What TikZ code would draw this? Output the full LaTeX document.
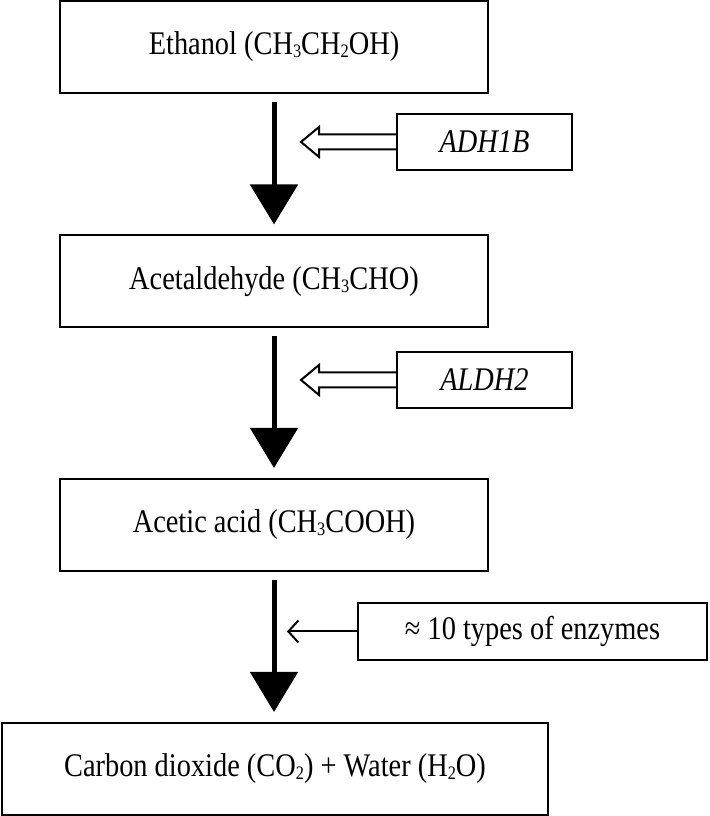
\documentclass[tikz,border=0pt]{standalone}
\usepackage{fontspec}
\setmainfont{Liberation Serif}[FakeStretch=0.86]
\usetikzlibrary{arrows.meta}
\newcommand\chemsub[1]{\raisebox{-0.08em}{\fontsize{19}{19}\selectfont#1}}

\begin{document}
\begin{tikzpicture}[x=1pt,y=1pt,
  stage/.style={draw,line width=2pt,minimum height=92pt,inner sep=0pt,font=\fontsize{33}{38}\selectfont},
  enzyme/.style={draw,line width=2pt,minimum width=175pt,minimum height=56pt,inner sep=0pt,font=\fontsize{33}{38}\selectfont\itshape},
  flow/.style={line width=5pt,-{Triangle[length=40pt,width=47pt]},shorten <=8pt,shorten >=10pt},
  hollow/.style={line width=2pt,line join=miter},
  thinarrow/.style={line width=2pt,-{Straight Barb[length=10pt,width=22pt]}}]
  \useasboundingbox (0,0) rectangle (709,816);

  % metabolites
  \node[stage,minimum width=428pt] (eth) at (274,769) {Ethanol (CH\chemsub{3}CH\chemsub{2}OH)};
  \node[stage,minimum width=428pt] (ald) at (274,534.5) {Acetaldehyde (CH\chemsub{3}CHO)};
  \node[stage,minimum width=428pt] (acid) at (274,291) {Acetic acid (CH\chemsub{3}COOH)};
  \node[stage,minimum width=546pt] (co2) at (275,47) {Carbon dioxide (CO\chemsub{2}) + Water (H\chemsub{2}O)};

  % enzymes
  \node[enzyme] (adh) at (484.5,674) {ADH1B};
  \node[enzyme] (aldh) at (484.5,436) {ALDH2};
  \node[enzyme,font=\fontsize{33}{38}\selectfont,minimum width=349pt,minimum height=57pt] (enz) at (532.5,184.5) {≈ 10 types of enzymes};

  \draw[flow] (eth) -- (ald);
  \draw[flow] (ald) -- (acid);
  \draw[flow] (acid) -- (acid |- co2.north);

  \draw[hollow] ([yshift=7.5pt]adh.west) -- ++(-77,0) -- ++(0,7.5) -- ++(-18,-15) -- ++(18,-15) -- ++(0,7.5) -- ++(77,0);
  \draw[hollow] ([yshift=7.5pt]aldh.west) -- ++(-77,0) -- ++(0,7.5) -- ++(-18,-15) -- ++(18,-15) -- ++(0,7.5) -- ++(77,0);
  \draw[thinarrow] (enz.west) -- ([xshift=13pt]enz.west -| acid.south);
\end{tikzpicture}
\end{document}
